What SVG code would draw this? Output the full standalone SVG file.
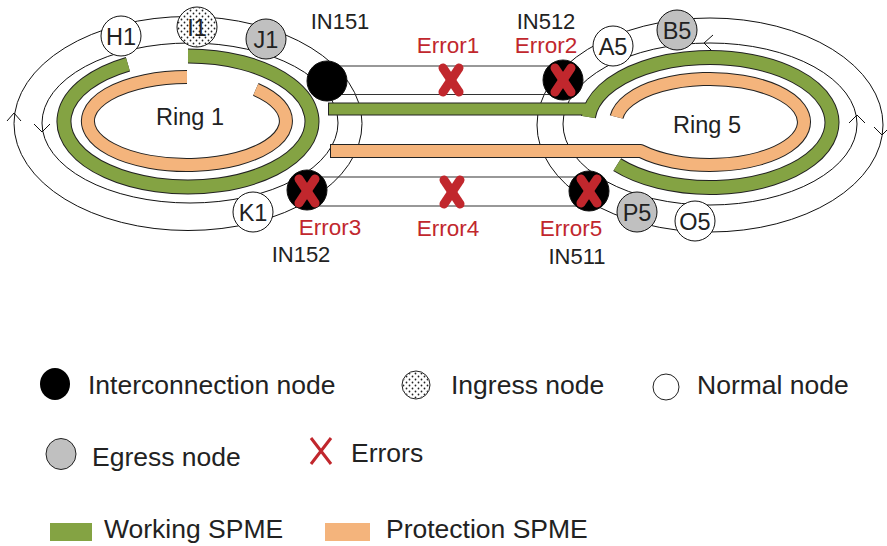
<svg xmlns="http://www.w3.org/2000/svg" width="887" height="546" viewBox="0 0 887 546">
  <defs>
    <pattern id="dots" width="6" height="6" patternUnits="userSpaceOnUse">
      <circle cx="1.5" cy="1.5" r="0.9" fill="#222"/>
      <circle cx="4.5" cy="4.5" r="0.9" fill="#222"/>
    </pattern>
    <style>
      .ring { fill: none; stroke: #111; stroke-width: 1; }
      .link { stroke: #333; stroke-width: 1.2; }
      .chev { fill: none; stroke: #111; stroke-width: 1; }
      .edge-g { fill: none; stroke: #222; stroke-width: 15; }
      .edge-o { fill: none; stroke: #222; stroke-width: 14; }
      .work { fill: none; stroke: #84A343; stroke-width: 13; }
      .prot { fill: none; stroke: #F4B47C; stroke-width: 12; }
      .node { stroke: #111; stroke-width: 1; }
      .normal { fill: #fff; }
      .egress { fill: #C0C0C0; }
      .inter { fill: #000; }
      .lbl { font-family: "Liberation Sans", Arial, sans-serif; font-size: 23.5px; fill: #222; text-anchor: middle; }
      .tag { font-family: "Liberation Sans", Arial, sans-serif; font-size: 22px; fill: #222; text-anchor: middle; }
      .err { font-family: "Liberation Sans", Arial, sans-serif; font-size: 22.5px; fill: #C1272D; text-anchor: middle; }
      .leg { font-family: "Liberation Sans", Arial, sans-serif; font-size: 26.5px; fill: #222; }
      .x { stroke: #C1272D; stroke-width: 9; stroke-linecap: round; fill: none; }
    </style>
    <g id="cross">
      <line class="x" x1="-8" y1="-12" x2="8" y2="12"/>
      <line class="x" x1="8" y1="-12" x2="-8" y2="12"/>
    </g>
  </defs>

  <!-- ring tracks -->
  <g id="tracks">
    <ellipse class="ring" cx="188" cy="123.5" rx="174" ry="107"/>
    <ellipse class="ring" cx="190" cy="123" rx="148" ry="80"/>
    <ellipse class="ring" cx="710" cy="125" rx="173" ry="107"/>
    <ellipse class="ring" cx="710" cy="124" rx="147" ry="81"/>
    <path class="chev" d="M7,121 L14,113 L21,121"/>
    <path class="chev" d="M34,124 L42,132 L50,124"/>
    <path class="chev" d="M713,35 L704,43 L713,52"/>
    <path class="chev" d="M849,123 L857,115 L865,123"/>
    <path class="chev" d="M874,127 L882,135 L890,127"/>
  </g>

  <!-- connectors between the interconnection nodes -->
  <g id="connectors">
    <line class="link" x1="327" y1="66" x2="563" y2="66" stroke="#111"/>
    <line class="link" x1="327" y1="94.5" x2="563" y2="94.5"/>
    <line class="link" x1="307" y1="177" x2="589" y2="177"/>
    <line class="link" x1="307" y1="206" x2="589" y2="206"/>
  </g>

  <!-- SPME paths -->
  <g id="spme">
    <path class="edge-g" d="M188,56 A124,65.5 0 1 1 127.9,64.2"/>
    <path class="edge-o" d="M187,77 A99,44 0 1 0 255.8,89.4"/>
    <path class="edge-g" d="M588.4,117 A122,65 0 1 1 617.2,164.7"/>
    <path class="edge-o" d="M330,151 H640.6 A94,43 0 1 0 616.6,117" stroke-linejoin="round"/>
    <rect x="328.5" y="103" width="262" height="12" fill="#84A343" stroke="#222" stroke-width="1"/>
    <path class="work" d="M188,56 A124,65.5 0 1 1 127.9,64.2"/>
    <path class="prot" d="M187,77 A99,44 0 1 0 255.8,89.4"/>
    <path class="work" d="M588.4,117 A122,65 0 1 1 617.2,164.7"/>
    <path class="prot" d="M331,151 H640.6 A94,43 0 1 0 616.6,117" stroke-linejoin="round"/>
  </g>

  <text class="lbl" x="190" y="125">Ring 1</text>
  <text class="lbl" x="707" y="133">Ring 5</text>

  <!-- ring 1 nodes -->
  <g id="H1"><circle class="node normal" cx="121" cy="36" r="20"/><text class="lbl" x="121" y="44.5">H1</text></g>
  <g id="I1"><circle class="node normal" cx="197" cy="27" r="20"/><circle cx="197" cy="27" r="19.5" fill="url(#dots)"/><text class="lbl" x="197" y="35.5">I1</text></g>
  <g id="J1"><circle class="node egress" cx="266" cy="39" r="20"/><text class="lbl" x="266" y="47.5">J1</text></g>
  <g id="K1"><circle class="node normal" cx="253" cy="212" r="20"/><text class="lbl" x="253" y="220.5">K1</text></g>
  <g id="IN151"><circle class="node inter" cx="327" cy="81" r="20"/><text class="tag" x="340" y="29">IN151</text></g>
  <g id="IN152"><circle class="node inter" cx="307" cy="190" r="20"/><text class="tag" x="301" y="262">IN152</text></g>

  <!-- ring 5 nodes -->
  <g id="A5"><circle class="node normal" cx="613" cy="46" r="20"/><text class="lbl" x="613" y="54.5">A5</text></g>
  <g id="B5"><circle class="node egress" cx="677" cy="30" r="20"/><text class="lbl" x="677" y="38.5">B5</text></g>
  <g id="P5"><circle class="node egress" cx="637" cy="212" r="20"/><text class="lbl" x="637" y="220.5">P5</text></g>
  <g id="O5"><circle class="node normal" cx="695" cy="221" r="20"/><text class="lbl" x="695" y="229.5">O5</text></g>
  <g id="IN512"><circle class="node inter" cx="563" cy="80" r="20"/><text class="tag" x="546" y="29">IN512</text></g>
  <g id="IN511"><circle class="node inter" cx="589" cy="191" r="20"/><text class="tag" x="577" y="264">IN511</text></g>

  <!-- errors -->
  <g id="errors">
    <use href="#cross" x="451" y="80"/>
    <use href="#cross" x="563" y="80"/>
    <use href="#cross" x="307" y="191"/>
    <use href="#cross" x="452" y="192"/>
    <use href="#cross" x="589" y="191"/>
    <text class="err" x="448" y="53">Error1</text>
    <text class="err" x="546" y="53">Error2</text>
    <text class="err" x="330" y="235">Error3</text>
    <text class="err" x="448" y="236">Error4</text>
    <text class="err" x="571" y="236">Error5</text>
  </g>

  <!-- legend -->
  <g id="legend">
    <ellipse cx="55" cy="384" rx="15" ry="16" fill="#000"/>
    <text class="leg" x="88" y="394">Interconnection node</text>
    <circle cx="416" cy="385" r="14" fill="#fff" stroke="#222" stroke-width="1"/>
    <circle cx="416" cy="385" r="13.5" fill="url(#dots)"/>
    <text class="leg" x="451" y="394">Ingress node</text>
    <circle cx="666" cy="387" r="13" fill="#fff" stroke="#222" stroke-width="1"/>
    <text class="leg" x="697" y="394">Normal node</text>
    <ellipse cx="61" cy="454" rx="15" ry="15.5" fill="#C0C0C0" stroke="#222" stroke-width="1"/>
    <text class="leg" x="92" y="466">Egress node</text>
    <path d="M311,438 L331,464 M331,438 L311,464" stroke="#C1272D" stroke-width="3" fill="none"/>
    <text class="leg" x="351" y="462">Errors</text>
    <rect x="50" y="523" width="42" height="18" fill="#84A343"/>
    <text class="leg" x="104" y="538">Working SPME</text>
    <rect x="325" y="523" width="45" height="18" fill="#F4B47C"/>
    <text class="leg" x="386" y="538">Protection SPME</text>
  </g>
</svg>
